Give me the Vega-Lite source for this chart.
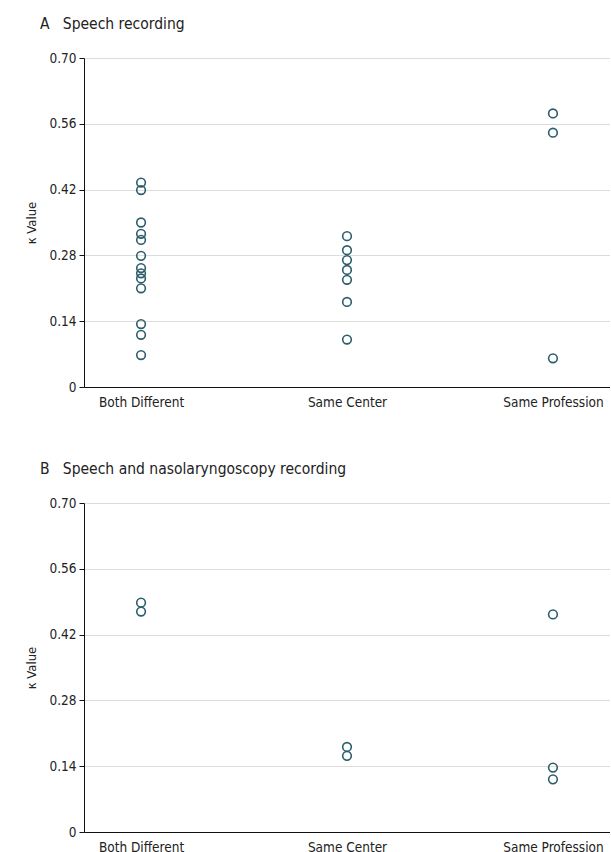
{
  "$schema": "https://vega.github.io/schema/vega-lite/v6.json",
  "padding": {"left": 25, "top": 16, "right": 0, "bottom": 0},
  "spacing": 52,
  "config": {
    "font": "DejaVu Sans Condensed",
    "view": {"stroke": null},
    "axis": {"labelFont": "DejaVu Sans Condensed", "titleFont": "DejaVu Sans Condensed", "labelColor": "#222", "titleColor": "#222", "labelFontSize": 13.5, "titleFontSize": 13, "titleFontWeight": "normal"},
    "title": {"font": "DejaVu Sans Condensed", "fontSize": 15.5, "fontWeight": "normal", "color": "#222", "anchor": "start", "frame": "bounds"}
  },
  "datasets": {
    "a": [
      {"group": "Both Different", "kappa": 0.435},
      {"group": "Both Different", "kappa": 0.419},
      {"group": "Both Different", "kappa": 0.350},
      {"group": "Both Different", "kappa": 0.326},
      {"group": "Both Different", "kappa": 0.313},
      {"group": "Both Different", "kappa": 0.279},
      {"group": "Both Different", "kappa": 0.253},
      {"group": "Both Different", "kappa": 0.242},
      {"group": "Both Different", "kappa": 0.231},
      {"group": "Both Different", "kappa": 0.210},
      {"group": "Both Different", "kappa": 0.134},
      {"group": "Both Different", "kappa": 0.111},
      {"group": "Both Different", "kappa": 0.068},
      {"group": "Same Center", "kappa": 0.321},
      {"group": "Same Center", "kappa": 0.291},
      {"group": "Same Center", "kappa": 0.270},
      {"group": "Same Center", "kappa": 0.249},
      {"group": "Same Center", "kappa": 0.228},
      {"group": "Same Center", "kappa": 0.181},
      {"group": "Same Center", "kappa": 0.101},
      {"group": "Same Profession", "kappa": 0.582},
      {"group": "Same Profession", "kappa": 0.541},
      {"group": "Same Profession", "kappa": 0.061}
    ],
    "b": [
      {"group": "Both Different", "kappa": 0.488},
      {"group": "Both Different", "kappa": 0.469},
      {"group": "Same Center", "kappa": 0.181},
      {"group": "Same Center", "kappa": 0.162},
      {"group": "Same Profession", "kappa": 0.463},
      {"group": "Same Profession", "kappa": 0.137},
      {"group": "Same Profession", "kappa": 0.112}
    ]
  },
  "vconcat": [
    {
      "title": {"text": "A\u00a0\u00a0\u00a0Speech recording", "offset": 19, "dx": 14},
      "data": {"name": "a"},
      "width": 526,
      "height": 329,
      "mark": {"type": "point", "shape": "circle", "filled": false, "size": 75, "strokeWidth": 1.6, "color": "#2c5d6c", "opacity": 1},
      "encoding": {
        "x": {"field": "group", "type": "nominal", "sort": ["Both Different", "Same Center", "Same Profession"],
              "scale": {"type": "point", "padding": 0.277},
              "axis": {"title": null, "labelAngle": 0, "ticks": false, "domainColor": "#111", "domainWidth": 1.2, "labelPadding": 8, "grid": false}},
        "y": {"field": "kappa", "type": "quantitative",
              "scale": {"domain": [0, 0.7], "nice": false, "zero": true},
              "axis": {"title": "κ Value", "values": [0, 0.14, 0.28, 0.42, 0.56, 0.7],
                       "labelExpr": "datum.value == 0 ? '0' : format(datum.value, '.2f')",
                       "domainColor": "#111", "tickColor": "#111", "tickSize": 5, "labelPadding": 3,
                       "gridColor": "#dcdcdc", "gridWidth": 1, "titlePadding": 10}}
      }
    },
    {
      "title": {"text": "B\u00a0\u00a0\u00a0Speech and nasolaryngoscopy recording", "offset": 19, "dx": 14},
      "data": {"name": "b"},
      "width": 526,
      "height": 329,
      "mark": {"type": "point", "shape": "circle", "filled": false, "size": 75, "strokeWidth": 1.6, "color": "#2c5d6c", "opacity": 1},
      "encoding": {
        "x": {"field": "group", "type": "nominal", "sort": ["Both Different", "Same Center", "Same Profession"],
              "scale": {"type": "point", "padding": 0.277},
              "axis": {"title": null, "labelAngle": 0, "ticks": false, "domainColor": "#111", "domainWidth": 1.2, "labelPadding": 8, "grid": false}},
        "y": {"field": "kappa", "type": "quantitative",
              "scale": {"domain": [0, 0.7], "nice": false, "zero": true},
              "axis": {"title": "κ Value", "values": [0, 0.14, 0.28, 0.42, 0.56, 0.7],
                       "labelExpr": "datum.value == 0 ? '0' : format(datum.value, '.2f')",
                       "domainColor": "#111", "tickColor": "#111", "tickSize": 5, "labelPadding": 3,
                       "gridColor": "#dcdcdc", "gridWidth": 1, "titlePadding": 10}}
      }
    }
  ]
}
